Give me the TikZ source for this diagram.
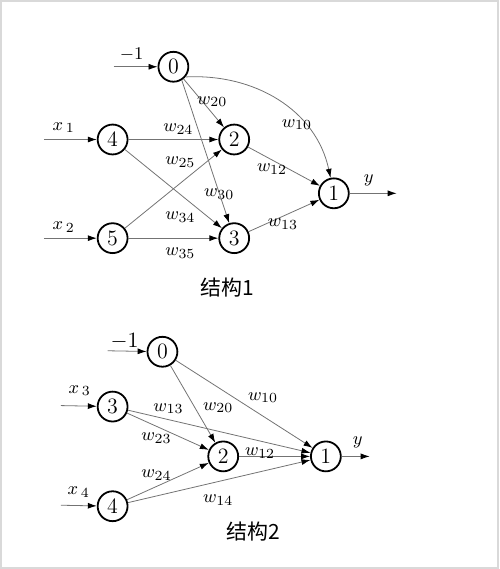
\documentclass[tikz,border=0pt]{standalone}
\usepackage{fontspec}
\newfontfamily\cjk{Noto Sans CJK SC}
\usetikzlibrary{arrows.meta}
\tikzset{
  neuron/.style={circle, draw, line width=0.9pt, minimum size=15pt, inner sep=0pt,
    font=\fontsize{11}{13}\selectfont},
  conn/.style={draw=black!55, line width=0.4pt, -{Latex[length=4.5pt,width=3pt,black]}},
  wlbl/.style={inner sep=0pt, font=\fontsize{9.5}{11}\selectfont},
  title/.style={inner sep=0pt, font=\cjk\fontsize{10.5}{12}\selectfont},
}
\begin{document}
\begin{tikzpicture}[x=0.5pt, y=-0.5pt]
		\draw[black!15, line width=1pt] (0,0) rectangle (499,569);
		% structure 1
		\node[neuron] (a0) at (173,66) {0};
		\node[neuron] (a4) at (112,139) {4};
		\node[neuron] (a2) at (234,139) {2};
		\node[neuron] (a5) at (112,238) {5};
		\node[neuron] (a3) at (234,238) {3};
		\node[neuron] (a1) at (334,193) {1};
		\coordinate (ain0) at (113,66);
		\coordinate (ain4) at (43,139);
		\coordinate (ain5) at (43,238);
		\coordinate (aout) at (397,193);
		\draw[conn] (ain0) -- (a0);
		\draw[conn] (ain4) -- (a4);
		\draw[conn] (ain5) -- (a5);
		\draw[conn] (a1) -- (aout);
		\draw[conn] (a0) -- (a2);
		\draw[conn] (a0.-58) -- (a3);
		\draw[conn] (a0.-40) to[out=3, in=102] (a1);
		\draw[conn] (a4) -- (a2);
		\draw[conn] (a4) -- (a3);
		\draw[conn] (a5) -- (a2);
		\draw[conn] (a5) -- (a3);
		\draw[conn] (a2) -- (a1);
		\draw[conn] (a3) -- (a1);
		\node[wlbl] (am1) at (131,54) {$-1$};
		\node[wlbl] (ax1) at (63,127) {$x_{\,1}$};
		\node[wlbl] (ax2) at (63,227) {$x_{\,2}$};
		\node[wlbl] (ay) at (369,180) {$y$};
		\node[wlbl] (aw20) at (212,101) {$w_{20}$};
		\node[wlbl] (aw24) at (178,129) {$w_{24}$};
		\node[wlbl] (aw10) at (297,124) {$w_{10}$};
		\node[wlbl] (aw25) at (180,162) {$w_{25}$};
		\node[wlbl] (aw12) at (272,169) {$w_{12}$};
		\node[wlbl] (aw30) at (219,194) {$w_{30}$};
		\node[wlbl] (aw34) at (180,217) {$w_{34}$};
		\node[wlbl] (aw13) at (283,224) {$w_{13}$};
		\node[wlbl] (aw35) at (180,253) {$w_{35}$};
		\node[title] (atitle) at (227,288) {结构1};
		% structure 2
		\node[neuron] (b0) at (162,352) {0};
		\node[neuron] (b3) at (112,407) {3};
		\node[neuron] (b2) at (223,457) {2};
		\node[neuron] (b4) at (112,507) {4};
		\node[neuron] (b1) at (326,457) {1};
		\coordinate (bin0) at (107,351);
		\coordinate (bin3) at (60,406);
		\coordinate (bin4) at (60,506);
		\coordinate (bout) at (370,457);
		\draw[conn] (bin0) -- (b0);
		\draw[conn] (bin3) -- (b3);
		\draw[conn] (bin4) -- (b4);
		\draw[conn] (b1) -- (bout);
		\draw[conn] (b0) -- (b2);
		\draw[conn] (b0) -- (b1);
		\draw[conn] (b3) -- (b1);
		\draw[conn] (b3) -- (b2);
		\draw[conn] (b2) -- (b1);
		\draw[conn] (b4) -- (b2);
		\draw[conn] (b4) -- (b1);
		\node[wlbl, font=\fontsize{11}{13}\selectfont] (bm1) at (124,342) {$-1$};
		\node[wlbl] (bx3) at (79,391) {$x_{\,3}$};
		\node[wlbl] (bx4) at (78,493) {$x_{\,4}$};
		\node[wlbl] (by) at (358,443) {$y$};
		\node[wlbl] (bw13) at (168,409) {$w_{13}$};
		\node[wlbl] (bw20) at (218,408) {$w_{20}$};
		\node[wlbl] (bw10) at (263,398) {$w_{10}$};
		\node[wlbl] (bw23) at (156,439) {$w_{23}$};
		\node[wlbl] (bw12) at (260,454) {$w_{12}$};
		\node[wlbl] (bw24) at (156,476) {$w_{24}$};
		\node[wlbl] (bw14) at (218,501) {$w_{14}$};
		\node[title] (btitle) at (253,532) {结构2};
\end{tikzpicture}
\end{document}
